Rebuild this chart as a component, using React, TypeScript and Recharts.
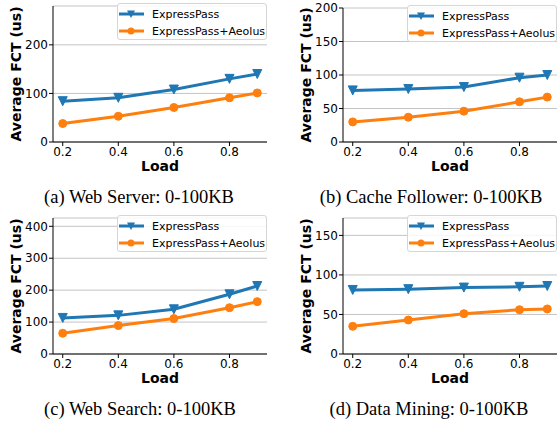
import {
  CartesianGrid,
  Legend,
  Line,
  LineChart,
  XAxis,
  YAxis,
} from "recharts";

const loads = [0.2, 0.4, 0.6, 0.8, 0.9];
const loadTicks = [0.2, 0.4, 0.6, 0.8];

const webServerExpressPass = [84, 91, 108, 130, 140];
const webServerAeolus = [38, 53, 71, 91, 101];
const cacheFollowerExpressPass = [77, 79, 82, 96, 100];
const cacheFollowerAeolus = [30, 37, 46, 60, 67];
const webSearchExpressPass = [113, 121, 140, 187, 213];
const webSearchAeolus = [65, 89, 111, 145, 164];
const dataMiningExpressPass = [81, 82, 84, 85, 86];
const dataMiningAeolus = [35, 43, 51, 56, 57];

const seriesNames = ["ExpressPass", "ExpressPass+Aeolus"];
const blue = "#1f77b4";
const orange = "#ff7f0e";
const sans = "DejaVu Sans";

type PanelSpec = {
  caption: string;
  expressPass: number[];
  aeolus: number[];
  yMax: number;
  yTicks: number[];
  left: number;
  top: number;
  axisWidth: number;
  marginTop: number;
  marginRight: number;
  labelX: number;
  captionX: number;
};

const panels: PanelSpec[] = [
  {
    caption: "(a) Web Server: 0-100KB",
    expressPass: webServerExpressPass,
    aeolus: webServerAeolus,
    yMax: 280,
    yTicks: [0, 100, 200],
    left: 0,
    top: 0,
    axisWidth: 53,
    marginTop: 6,
    marginRight: 12,
    labelX: 16,
    captionX: 139,
  },
  {
    caption: "(b) Cache Follower: 0-100KB",
    expressPass: cacheFollowerExpressPass,
    aeolus: cacheFollowerAeolus,
    yMax: 200,
    yTicks: [0, 50, 100, 150, 200],
    left: 279,
    top: 0,
    axisWidth: 64,
    marginTop: 8,
    marginRight: 1,
    labelX: 27,
    captionX: 152,
  },
  {
    caption: "(c) Web Search: 0-100KB",
    expressPass: webSearchExpressPass,
    aeolus: webSearchAeolus,
    yMax: 426,
    yTicks: [0, 100, 200, 300, 400],
    left: 0,
    top: 212,
    axisWidth: 53,
    marginTop: 6,
    marginRight: 12,
    labelX: 16,
    captionX: 140,
  },
  {
    caption: "(d) Data Mining: 0-100KB",
    expressPass: dataMiningExpressPass,
    aeolus: dataMiningAeolus,
    yMax: 172,
    yTicks: [0, 50, 100, 150],
    left: 279,
    top: 212,
    axisWidth: 64,
    marginTop: 6,
    marginRight: 1,
    labelX: 27,
    captionX: 150,
  },
];

const CHART_W = 279;
const CHART_H = 200;
const XAXIS_H = 40;
const LEGEND_W = 150;

function TriangleDot(props: any) {
  const { cx, cy, index } = props;
  if (cx == null || cy == null) return null;
  const s = 4.5;
  return (
    <polygon
      key={`tri-${index}`}
      points={`${cx - s},${cy - s} ${cx + s},${cy - s} ${cx},${cy + s}`}
      fill={blue}
      stroke={blue}
      strokeWidth={1}
    />
  );
}

function LegendBox() {
  return (
    <div
      style={{
        width: LEGEND_W,
        height: 37,
        boxSizing: "border-box",
        border: "1px solid #d6d6d6",
        borderRadius: 3,
        background: "rgba(255,255,255,0.85)",
      }}
    >
      <svg width={LEGEND_W - 2} height={35} style={{ display: "block" }}>
        <line x1={1} x2={26} y1={10} y2={10} stroke={blue} strokeWidth={3} />
        <polygon points="9,6.5 17,6.5 13,14" fill={blue} />
        <text x={34} y={10} dominantBaseline="central" fontSize={11} fontFamily={sans} fill="#000">
          {seriesNames[0]}
        </text>
        <line x1={1} x2={26} y1={27} y2={27} stroke={orange} strokeWidth={3} />
        <circle cx={13} cy={27} r={3.5} fill={orange} />
        <text x={34} y={27} dominantBaseline="central" fontSize={11} fontFamily={sans} fill="#000">
          {seriesNames[1]}
        </text>
      </svg>
    </div>
  );
}

function Panel({ spec }: { spec: PanelSpec }) {
  const data = loads.map((load, i) => ({
    load,
    expressPass: spec.expressPass[i],
    aeolus: spec.aeolus[i],
  }));
  const plotBottom = CHART_H - 18 - XAXIS_H;
  const tickStyle = { fontSize: 12, fill: "#000", fontFamily: sans };
  const labelY = (spec.marginTop + plotBottom) / 2;

  return (
    <div style={{ position: "absolute", left: spec.left, top: spec.top, width: CHART_W, height: 212 }}>
      <LineChart
        width={CHART_W}
        height={CHART_H}
        data={data}
        margin={{ top: spec.marginTop, right: spec.marginRight, left: 0, bottom: 18 }}
      >
        <CartesianGrid vertical={false} stroke="#c4c4c4" strokeWidth={1} />
        <XAxis
          dataKey="load"
          type="number"
          domain={[0.165, 0.935]}
          allowDataOverflow
          ticks={loadTicks}
          tickFormatter={(v: number) => v.toFixed(1)}
          tick={tickStyle}
          tickSize={4}
          tickMargin={1}
          height={XAXIS_H}
          stroke="#000"
          label={(p: any) => {
            const vb = p.viewBox || {};
            return (
              <text
                x={vb.x + vb.width / 2}
                y={vb.y + 29}
                textAnchor="middle"
                fontSize={14}
                fontWeight="bold"
                fontFamily={sans}
                fill="#000"
              >
                Load
              </text>
            );
          }}
        />
        <XAxis
          xAxisId="top"
          orientation="top"
          dataKey="load"
          type="number"
          domain={[0.165, 0.935]}
          allowDataOverflow
          height={0}
          tick={false}
          tickLine={false}
          stroke="#000"
        />
        <YAxis
          type="number"
          domain={[0, spec.yMax]}
          allowDataOverflow
          ticks={spec.yTicks}
          tick={tickStyle}
          tickSize={4}
          tickMargin={1}
          width={spec.axisWidth}
          stroke="#000"
          label={() => (
            <text
              x={spec.labelX}
              y={labelY}
              transform={`rotate(-90 ${spec.labelX} ${labelY})`}
              textAnchor="middle"
              dominantBaseline="central"
              fontSize={14}
              fontWeight="bold"
              fontFamily={sans}
              fill="#000"
            >
              Average FCT (us)
            </text>
          )}
        />
        <YAxis
          yAxisId="right"
          orientation="right"
          type="number"
          domain={[0, spec.yMax]}
          width={0}
          tick={false}
          tickLine={false}
          stroke="#000"
        />
        <Legend
          layout="vertical"
          align="center"
          verticalAlign="middle"
          content={() => <LegendBox />}
          wrapperStyle={{
            left: CHART_W - spec.marginRight - LEGEND_W,
            top: spec.marginTop - 3,
            width: LEGEND_W,
          }}
        />
        <Line
          dataKey="expressPass"
          name={seriesNames[0]}
          stroke={blue}
          strokeWidth={3}
          dot={(p: any) => <TriangleDot key={`t-${p.index}`} {...p} />}
          isAnimationActive={false}
        />
        <Line
          dataKey="aeolus"
          name={seriesNames[1]}
          stroke={orange}
          strokeWidth={3}
          dot={{ r: 4, fill: orange, stroke: orange, strokeWidth: 1 }}
          isAnimationActive={false}
        />
      </LineChart>
      <div
        style={{
          position: "absolute",
          left: spec.captionX - 140,
          width: 280,
          top: 186.5,
          textAlign: "center",
          fontFamily: "Liberation Serif",
          fontSize: 18.5,
          lineHeight: "20px",
          color: "#000",
          whiteSpace: "nowrap",
        }}
      >
        {spec.caption}
      </div>
    </div>
  );
}

export default function App() {
  return (
    <div
      style={{
        position: "absolute",
        left: 0,
        top: 0,
        width: 558,
        height: 424,
        background: "#fff",
        overflow: "hidden",
      }}
    >
      {panels.map((p) => (
        <Panel key={p.caption} spec={p} />
      ))}
    </div>
  );
}
